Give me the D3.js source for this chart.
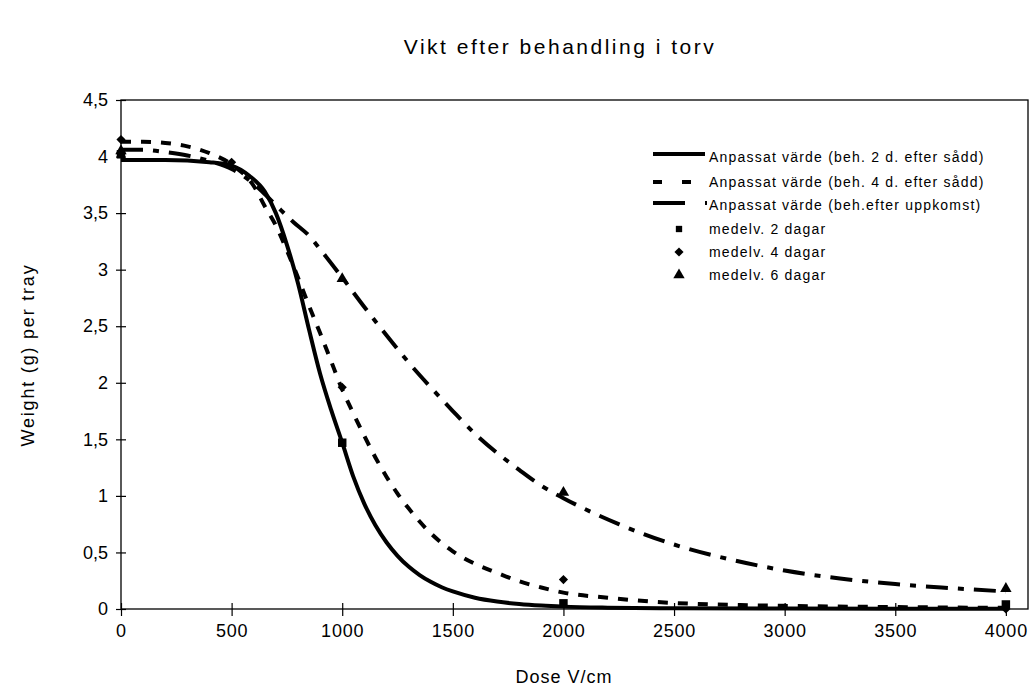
<!DOCTYPE html>
<html>
<head>
<meta charset="utf-8">
<script src="https://cdn.jsdelivr.net/npm/d3@7"></script>
<style>
  html, body { margin: 0; padding: 0; background: #fff; }
  svg { display: block; font-family: "Liberation Sans", Arial, sans-serif; }
</style>
</head>
<body>
<svg id="chart" width="1036" height="693"></svg>
<script>
// Fitted curves (dose V/cm -> weight g per tray)
const fit2Dose = [0, 200, 400, 500, 580, 650, 700, 750, 800, 850, 900, 950, 1000, 1050, 1100, 1150, 1200, 1250, 1300, 1350, 1400, 1450, 1500, 1600, 1700, 1800, 1900, 2000, 2200, 2500, 3000, 3500, 4000];
const fit2Val  = [3.97, 3.97, 3.95, 3.92, 3.83, 3.69, 3.50, 3.22, 2.88, 2.47, 2.08, 1.76, 1.47, 1.17, 0.93, 0.74, 0.59, 0.47, 0.375, 0.30, 0.24, 0.192, 0.155, 0.10, 0.066, 0.044, 0.03, 0.021, 0.012, 0.007, 0.004, 0.003, 0.002];

const fit4Dose = [0, 100, 200, 300, 400, 500, 600, 650, 700, 750, 800, 850, 900, 950, 1000, 1050, 1100, 1150, 1200, 1250, 1300, 1400, 1500, 1600, 1700, 1800, 1900, 2000, 2200, 2400, 2600, 2800, 3000, 3500, 4000];
const fit4Val  = [4.13, 4.13, 4.12, 4.09, 4.03, 3.93, 3.74, 3.56, 3.39, 3.17, 2.93, 2.68, 2.44, 2.19, 1.94, 1.73, 1.53, 1.34, 1.17, 1.02, 0.89, 0.67, 0.51, 0.40, 0.32, 0.245, 0.19, 0.145, 0.10, 0.065, 0.045, 0.035, 0.028, 0.017, 0.01];

const fit6Dose = [0, 100, 200, 300, 400, 500, 600, 700, 780, 850, 900, 1000, 1100, 1200, 1300, 1400, 1500, 1600, 1700, 1800, 1900, 2000, 2250, 2500, 2750, 3000, 3250, 3500, 3750, 4000];
const fit6Val  = [4.06, 4.06, 4.04, 4.01, 3.96, 3.89, 3.76, 3.57, 3.42, 3.30, 3.18, 2.93, 2.67, 2.42, 2.18, 1.96, 1.75, 1.55, 1.38, 1.23, 1.09, 0.98, 0.75, 0.57, 0.44, 0.34, 0.27, 0.22, 0.185, 0.155];

// Measured means
const mean2Dose = [0, 1000, 2000, 4000];
const mean2Val  = [4.02, 1.47, 0.05, 0.04];
const mean4Dose = [0, 500, 1000, 2000, 4000];
const mean4Val  = [4.15, 3.95, 1.96, 0.26, 0.0];
const mean6Dose = [0, 1000, 2000, 4000];
const mean6Val  = [4.05, 2.92, 1.03, 0.18];

const xTicks = [0, 500, 1000, 1500, 2000, 2500, 3000, 3500, 4000];
const yTicks = [0, 0.5, 1, 1.5, 2, 2.5, 3, 3.5, 4, 4.5];

const titleText = "Vikt efter behandling i torv";
const xLabel = "Dose V/cm";
const yLabel = "Weight (g) per tray";
const legendLabels = [
  "Anpassat värde (beh. 2 d. efter sådd)",
  "Anpassat värde (beh. 4 d. efter sådd)",
  "Anpassat värde (beh.efter uppkomst)",
  "medelv. 2 dagar",
  "medelv. 4 dagar",
  "medelv. 6 dagar"
];

const svg = d3.select("#chart");
const plot = { left: 121, right: 1028, top: 100, bottom: 609 };

const x = d3.scaleLinear().domain([0, 4100]).range([plot.left, plot.right]);
const y = d3.scaleLinear().domain([0, 4.5]).range([plot.bottom, plot.top]);
const fmt = d => String(d).replace(".", ",");

// Title
svg.append("text")
  .attr("x", 560).attr("y", 54)
  .attr("text-anchor", "middle")
  .attr("font-size", 21)
  .attr("letter-spacing", 2.5)
  .text(titleText);

// Plot frame
svg.append("rect")
  .attr("x", plot.left).attr("y", plot.top)
  .attr("width", plot.right - plot.left)
  .attr("height", plot.bottom - plot.top)
  .attr("fill", "none").attr("stroke", "#000").attr("stroke-width", 1.3);

// Axes
const xAxis = svg.append("g")
  .attr("transform", `translate(0,${plot.bottom})`)
  .call(d3.axisBottom(x).tickValues(xTicks).tickFormat(fmt).tickSize(7).tickPadding(8));
const yAxis = svg.append("g")
  .attr("transform", `translate(${plot.left},0)`)
  .call(d3.axisLeft(y).tickValues(yTicks).tickFormat(fmt).tickSize(5).tickPadding(8));

[xAxis, yAxis].forEach(g => {
  g.select(".domain").remove();
  g.selectAll("text").attr("font-size", 18).attr("font-family", "Liberation Sans, Arial, sans-serif").attr("fill", "#000");
  g.selectAll("line").attr("stroke", "#000").attr("stroke-width", 1.2);
});
xAxis.selectAll("text").attr("letter-spacing", 0.8);
// cross-style tick marks
xAxis.selectAll(".tick line").attr("y1", -6).attr("y2", 7);
yAxis.selectAll(".tick line").attr("x1", -5).attr("x2", 5);

// Axis titles
svg.append("text")
  .attr("x", 564).attr("y", 683)
  .attr("text-anchor", "middle").attr("font-size", 18)
  .attr("letter-spacing", 1)
  .text(xLabel);
svg.append("text")
  .attr("transform", "translate(34,355) rotate(-90)")
  .attr("text-anchor", "middle").attr("font-size", 18)
  .attr("letter-spacing", 1.8)
  .text(yLabel);

// Fitted curves
const line = d3.line()
  .x(d => x(d[0])).y(d => y(d[1]))
  .curve(d3.curveMonotoneX);

const curves = [
  { dose: fit2Dose, val: fit2Val, dash: null },
  { dose: fit4Dose, val: fit4Val, dash: "10,10" },
  { dose: fit6Dose, val: fit6Val, dash: "22,10,6,10" }
];
curves.forEach(c => {
  svg.append("path")
    .datum(d3.zip(c.dose, c.val))
    .attr("d", line)
    .attr("fill", "none")
    .attr("stroke", "#000")
    .attr("stroke-width", 4)
    .attr("stroke-dasharray", c.dash);
});

// Marker symbols
const sym = {
  square: d3.symbol().type(d3.symbolSquare).size(72),
  diamond: d3.symbol().type(d3.symbolSquare).size(42),
  triangle: d3.symbol().type(d3.symbolTriangle).size(56)
};
const rot = { square: 0, diamond: 45, triangle: 0 };

function drawMarkers(dose, val, shape) {
  svg.append("g").selectAll("path")
    .data(d3.zip(dose, val))
    .join("path")
    .attr("d", sym[shape])
    .attr("transform", d => `translate(${x(d[0])},${y(d[1])}) rotate(${rot[shape]})`)
    .attr("fill", "#000");
}
drawMarkers(mean2Dose, mean2Val, "square");
drawMarkers(mean4Dose, mean4Val, "diamond");
drawMarkers(mean6Dose, mean6Val, "triangle");

// Legend
const lg = svg.append("g");
const rowY = [157, 182, 205, 229, 252, 275];
const textX = 709;
legendLabels.forEach((t, i) => {
  lg.append("text")
    .attr("x", textX).attr("y", rowY[i])
    .attr("dy", "0.35em")
    .attr("font-size", 14)
    .attr("letter-spacing", 1.2)
    .text(t);
});
// line samples
lg.append("line").attr("x1", 653).attr("x2", 705).attr("y1", rowY[0] - 3).attr("y2", rowY[0] - 3)
  .attr("stroke", "#000").attr("stroke-width", 4);
lg.append("line").attr("x1", 653).attr("x2", 691).attr("y1", rowY[1]).attr("y2", rowY[1])
  .attr("stroke", "#000").attr("stroke-width", 4).attr("stroke-dasharray", "9,20");
lg.append("line").attr("x1", 653).attr("x2", 707).attr("y1", rowY[2] - 2).attr("y2", rowY[2] - 2)
  .attr("stroke", "#000").attr("stroke-width", 4).attr("stroke-dasharray", "32,20,2,40");
// marker samples
[["square", 3], ["diamond", 4], ["triangle", 5]].forEach(([shape, i]) => {
  lg.append("path")
    .attr("d", shape === "square" ? d3.symbol().type(d3.symbolSquare).size(40)() : sym[shape]())
    .attr("transform", `translate(679,${rowY[i]}) rotate(${rot[shape]})`)
    .attr("fill", "#000");
});
</script>
</body>
</html>
